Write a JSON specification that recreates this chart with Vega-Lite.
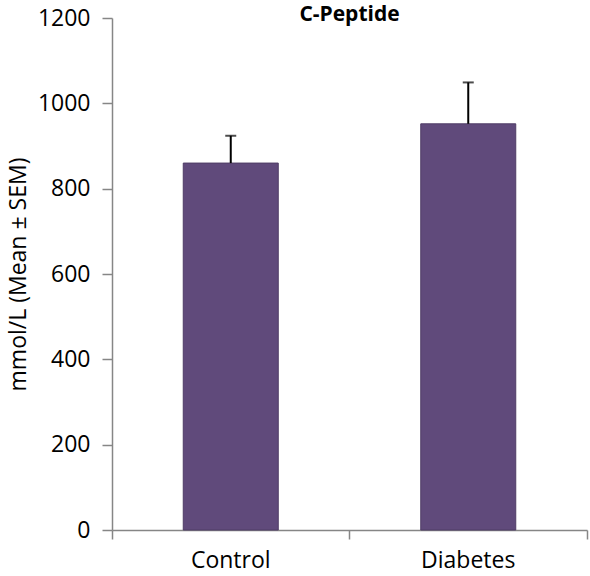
{
  "$schema": "https://vega.github.io/schema/vega-lite/v6.json",
  "width": 475,
  "height": 512,
  "autosize": {"type": "none"},
  "padding": {"left": 112, "top": 18, "right": 3, "bottom": 46},
  "background": "white",
  "title": {
    "text": "C-Peptide",
    "font": "Open Sans",
    "fontSize": 21,
    "fontWeight": "bold",
    "color": "#000000",
    "anchor": "middle",
    "frame": "group",
    "baseline": "alphabetic",
    "offset": -35
  },
  "config": {
    "view": {"stroke": null},
    "font": "Open Sans"
  },
  "data": {
    "values": [
      {"group": "Control", "mean": 860, "upper": 924},
      {"group": "Diabetes", "mean": 952, "upper": 1049}
    ]
  },
  "encoding": {
    "x": {
      "field": "group",
      "type": "nominal",
      "sort": null,
      "scale": {"paddingInner": 0, "paddingOuter": 0},
      "axis": {
        "title": null,
        "labelAngle": 0,
        "labelFont": "Open Sans",
        "labelFontSize": 23,
        "labelColor": "#000000",
        "labelPadding": 10,
        "domainColor": "#868686",
        "domainWidth": 1.5,
        "tickColor": "#868686",
        "tickWidth": 1.5,
        "tickSize": 9,
        "bandPosition": 1,
        "tickExtra": true,
        "grid": false
      }
    }
  },
  "layer": [
    {
      "mark": {"type": "bar", "width": {"band": 0.4}, "color": "#604a7b", "stroke": "#4f3d66", "strokeWidth": 1},
      "encoding": {
        "y": {
          "field": "mean",
          "type": "quantitative",
          "scale": {"domain": [0, 1200], "nice": false},
          "axis": {
            "title": "mmol/L  (Mean ± SEM)",
            "titleFont": "Open Sans",
            "titleFontSize": 23,
            "titleFontWeight": "normal",
            "titleColor": "#000000",
            "titlePadding": 7,
            "values": [0, 200, 400, 600, 800, 1000, 1200],
            "format": "d",
            "labelFont": "Open Sans",
            "labelFontSize": 23,
            "labelColor": "#000000",
            "labelPadding": 12,
            "domainColor": "#868686",
            "domainWidth": 1.5,
            "tickColor": "#868686",
            "tickWidth": 1.5,
            "tickSize": 10,
            "grid": false
          }
        }
      }
    },
    {
      "mark": {"type": "rule", "color": "#000000", "strokeWidth": 2},
      "encoding": {
        "y": {"field": "mean", "type": "quantitative"},
        "y2": {"field": "upper"}
      }
    },
    {
      "mark": {"type": "tick", "color": "#000000", "thickness": 2, "size": 11, "orient": "horizontal"},
      "encoding": {
        "y": {"field": "upper", "type": "quantitative"}
      }
    }
  ]
}
